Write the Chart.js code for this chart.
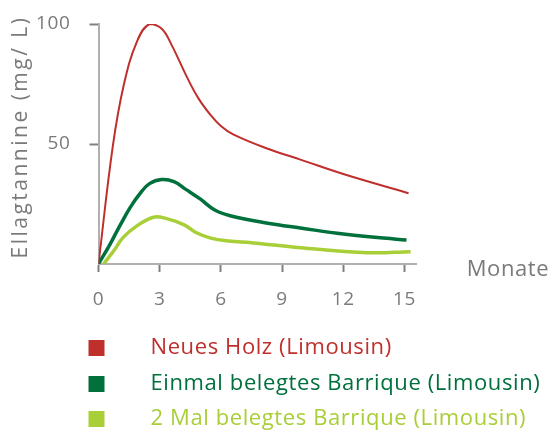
<!DOCTYPE html>
<html>
<head>
<meta charset="utf-8">
<script src="https://cdn.jsdelivr.net/npm/chart.js@4"></script>
<style>
  html, body { margin: 0; padding: 0; background: #fff; overflow: hidden; }
  #wrap { width: 552px; height: 440px; }
</style>
</head>
<body>
<div id="wrap"><canvas id="chart"></canvas></div>
<script>
// Werte (Monate / mg/L)
const seriesNames = ['Neues Holz (Limousin)', 'Einmal belegtes Barrique (Limousin)', '2 Mal belegtes Barrique (Limousin)'];
const seriesColors = ['#bf2f2c', '#00703c', '#a8cf38'];

const neuMonths = [0, 0.7, 1.25, 1.9, 2.5, 3.1, 3.6, 4.3, 4.9, 5.5, 6, 6.6, 8.3, 9.9, 12, 15.2];
const neuValues = [0, 49, 75, 93, 100, 98, 91, 78.5, 69, 62, 57.5, 54, 48, 43.5, 37.5, 29.5];

const einmalMonths = [0, 0.55, 1.05, 1.55, 2.05, 2.5, 3.1, 3.7, 4.3, 5.0, 5.7, 6.5, 8.3, 9.9, 12, 15.1];
const einmalValues = [0, 8, 16, 23.5, 29.5, 33.5, 35.2, 34.3, 31, 27, 22.5, 20, 17, 15, 12.5, 10];

const zweiMonths = [0.25, 0.75, 1.2, 1.9, 2.7, 3.3, 4.2, 4.8, 5.5, 6.4, 7.5, 9.9, 13.2, 15.3];
const zweiValues = [0, 5.5, 11, 16, 19.5, 19, 16.3, 13, 10.8, 9.6, 8.9, 6.8, 4.7, 5.1];

const xTicksStep = 3;
const yTicks = [50, 100];

const FONT = '"Open Sans", "Noto Sans", sans-serif';
const GREY = '#7a7a7a';

function toPoints(xs, ys) {
    return xs.map((x, i) => ({ x: x, y: ys[i] }));
}

// kleines Quadrat als Legendensymbol
function legendSquare(color) {
    const c = document.createElement('canvas');
    c.width = 60;
    c.height = 16;
    const g = c.getContext('2d');
    g.fillStyle = color;
    g.fillRect(42, 0, 16, 16);
    return c;
}

// etwas Zeichenabstand wie im Original, plus Achsentitel
const extraText = {
    id: 'extraText',
    beforeLayout(chart) { chart.ctx.letterSpacing = '0.6px'; },
    beforeDraw(chart) { chart.ctx.letterSpacing = '0.6px'; },
    afterDraw(chart) {
        const ctx = chart.ctx;
        const area = chart.chartArea;
        ctx.save();
        ctx.fillStyle = GREY;
        ctx.font = '22px ' + FONT;
        ctx.textAlign = 'left';
        ctx.textBaseline = 'middle';
        ctx.fillText('Monate', area.right + 50, area.bottom + 6);

        ctx.letterSpacing = '2.5px';
        ctx.font = '21px ' + FONT;
        ctx.translate(27, 137);
        ctx.rotate(-Math.PI / 2);
        ctx.textAlign = 'center';
        ctx.textBaseline = 'alphabetic';
        ctx.fillText('Ellagtannine (mg/ L)', 0, 0);
        ctx.restore();
    }
};

const ctx = document.getElementById('chart').getContext('2d');
new Chart(ctx, {
    type: 'line',
    data: {
        datasets: [
            {
                label: seriesNames[0],
                data: toPoints(neuMonths, neuValues),
                borderColor: seriesColors[0],
                borderWidth: 2
            },
            {
                label: seriesNames[1],
                data: toPoints(einmalMonths, einmalValues),
                borderColor: seriesColors[1],
                borderWidth: 3.5
            },
            {
                label: seriesNames[2],
                data: toPoints(zweiMonths, zweiValues),
                borderColor: seriesColors[2],
                borderWidth: 3.5
            }
        ]
    },
    options: {
        responsive: true,
        maintainAspectRatio: false,
        animation: false,
        elements: {
            point: { radius: 0 },
            line: { tension: 0.4, fill: false }
        },
        layout: {
            padding: { top: 24, right: 0, bottom: 0, left: 0 }
        },
        scales: {
            x: {
                type: 'linear',
                min: 0,
                max: 15.6,
                border: { color: '#b0b0b0', width: 2 },
                grid: {
                    drawOnChartArea: false,
                    tickLength: 8,
                    tickWidth: 2,
                    tickColor: '#808080'
                },
                ticks: {
                    stepSize: xTicksStep,
                    includeBounds: false,
                    padding: 16,
                    color: GREY,
                    font: { family: FONT, size: 19 }
                },
                afterFit: (scale) => { scale.height = 59.5; }
            },
            y: {
                min: 0,
                max: 100,
                border: { color: '#b0b0b0', width: 2 },
                grid: {
                    drawOnChartArea: false,
                    tickLength: 9,
                    tickWidth: 2,
                    tickColor: '#808080'
                },
                ticks: {
                    padding: 19,
                    color: GREY,
                    font: { family: FONT, size: 19 }
                },
                afterBuildTicks: (scale) => {
                    scale.ticks = yTicks.map(v => ({ value: v }));
                },
                afterFit: (scale) => {
                    scale.width = 98.5;
                    scale.paddingTop = 12;
                    scale.paddingBottom = 12;
                }
            },
            // leerer Rand rechts für "Monate"
            rand: {
                type: 'linear',
                position: 'right',
                grid: { display: false },
                border: { display: false },
                ticks: { display: false },
                afterFit: (scale) => { scale.width = 135.3; }
            }
        },
        plugins: {
            tooltip: { enabled: false },
            legend: {
                position: 'bottom',
                align: 'start',
                labels: {
                    usePointStyle: true,
                    pointStyleWidth: 126,
                    padding: 13.5,
                    font: { family: FONT, size: 22 },
                    generateLabels: (chart) => chart.data.datasets.map((ds, i) => ({
                        text: ds.label,
                        fontColor: seriesColors[i],
                        pointStyle: legendSquare(seriesColors[i]),
                        lineWidth: 0,
                        strokeStyle: 'rgba(0,0,0,0)',
                        fillStyle: seriesColors[i],
                        hidden: false,
                        datasetIndex: i
                    }))
                }
            }
        }
    },
    plugins: [extraText]
});
</script>
</body>
</html>
